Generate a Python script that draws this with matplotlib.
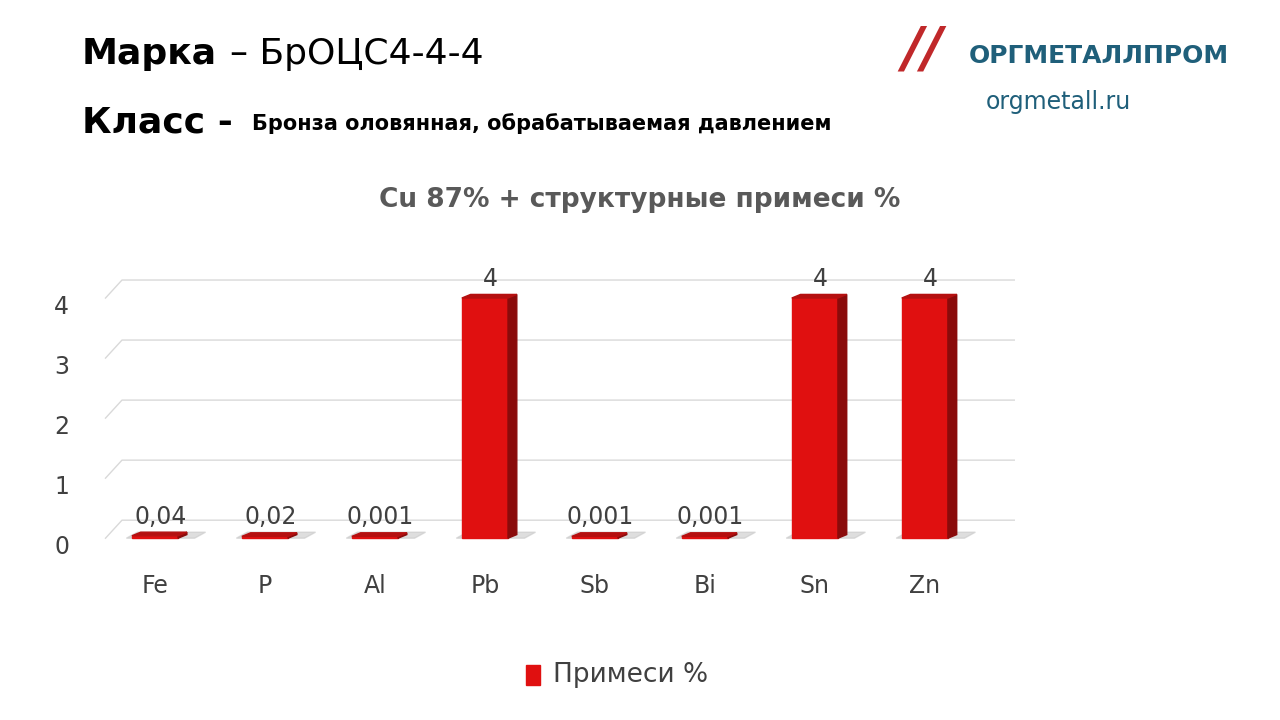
import matplotlib.pyplot as plt
from matplotlib.patches import Polygon, Rectangle

elements = ['Fe', 'P', 'Al', 'Pb', 'Sb', 'Bi', 'Sn', 'Zn']
values = [0.04, 0.02, 0.001, 4, 0.001, 0.001, 4, 4]
value_labels = ['0,04', '0,02', '0,001', '4', '0,001', '0,001', '4', '4']

fig = plt.figure(figsize=(12.8, 7.2), dpi=100)
fig.patch.set_facecolor('white')

# header texts
fig.text(0.064, 0.925, 'Марка', fontsize=26, fontweight='bold', va='center')
fig.text(0.18, 0.925, '– БрОЦС4-4-4', fontsize=26, va='center')
fig.text(0.064, 0.83, 'Класс -', fontsize=26, fontweight='bold', va='center')
fig.text(0.197, 0.828, 'Бронза оловянная, обрабатываемая давлением', fontsize=15,
         fontweight='bold', va='center')
fig.text(0.757, 0.922, 'ОРГМЕТАЛЛПРОМ', fontsize=18, fontweight='bold',
         color='#1f5f7a', va='center')
fig.text(0.77, 0.858, 'orgmetall.ru', fontsize=17, color='#1f5f7a', va='center')
fig.text(0.705, 0.93, '//', fontsize=40, fontweight='bold', color='#c0282a',
         va='center', style='italic')
fig.text(0.5, 0.722, 'Cu 87% + структурные примеси %', fontsize=19,
         fontweight='bold', color='#595959', ha='center', va='center')

ax = fig.add_axes([100 / 1280, (720 - 540) / 720, 915 / 1280, 290 / 720])
ax.set_xlim(-0.5, 7.82)
ax.set_ylim(-0.33, 4.5)
for s in ax.spines.values():
    s.set_visible(False)
ax.set_xticks([])
ax.set_yticks([])

# back wall grid lines (slanted look)
for g in range(5):
    ax.plot([-0.45, -0.3, 7.82], [g - 0.3, g, g], color='#d9d9d9', lw=1, zorder=0)
    ax.text(-0.85, g - 0.45, str(g), fontsize=17, color='#404040', ha='center', va='center')

bw = 0.42
dx, dy = 0.08, 0.06
for i, (v, lab) in enumerate(zip(values, value_labels)):
    x0 = i - bw / 2
    h = max(v, 0.03)
    ax.add_patch(Polygon([(x0 - 0.05, -0.3), (x0 + bw + 0.15, -0.3),
                          (x0 + bw + 0.25, -0.2), (x0 + 0.05, -0.2)],
                         color='#c8c8c8', alpha=0.6, zorder=1))
    ax.add_patch(Rectangle((x0, -0.3), bw, h, color='#e01010', zorder=3))
    ax.add_patch(Polygon([(x0 + bw, -0.3), (x0 + bw + dx, -0.3 + dy),
                          (x0 + bw + dx, -0.3 + h + dy), (x0 + bw, -0.3 + h)],
                         color='#8a0b0b', zorder=3))
    ax.add_patch(Polygon([(x0, -0.3 + h), (x0 + dx, -0.3 + h + dy),
                          (x0 + bw + dx, -0.3 + h + dy), (x0 + bw, -0.3 + h)],
                         color='#b51010', zorder=3))
    ax.text(i + 0.05, -0.3 + h + 0.12, lab, fontsize=17, color='#404040',
            ha='center', va='bottom')
    fig.text((100 + (i + 0.5) / 8.32 * 915) / 1280, 1 - 586 / 720, elements[i],
             fontsize=17, color='#404040', ha='center', va='center')

fig.patches.append(Rectangle((0.411, 0.048), 0.011, 0.028, color='#e01010',
                             transform=fig.transFigure))
fig.text(0.432, 0.062, 'Примеси %', fontsize=19, color='#404040', va='center')

fig.savefig('out.png', dpi=100)
